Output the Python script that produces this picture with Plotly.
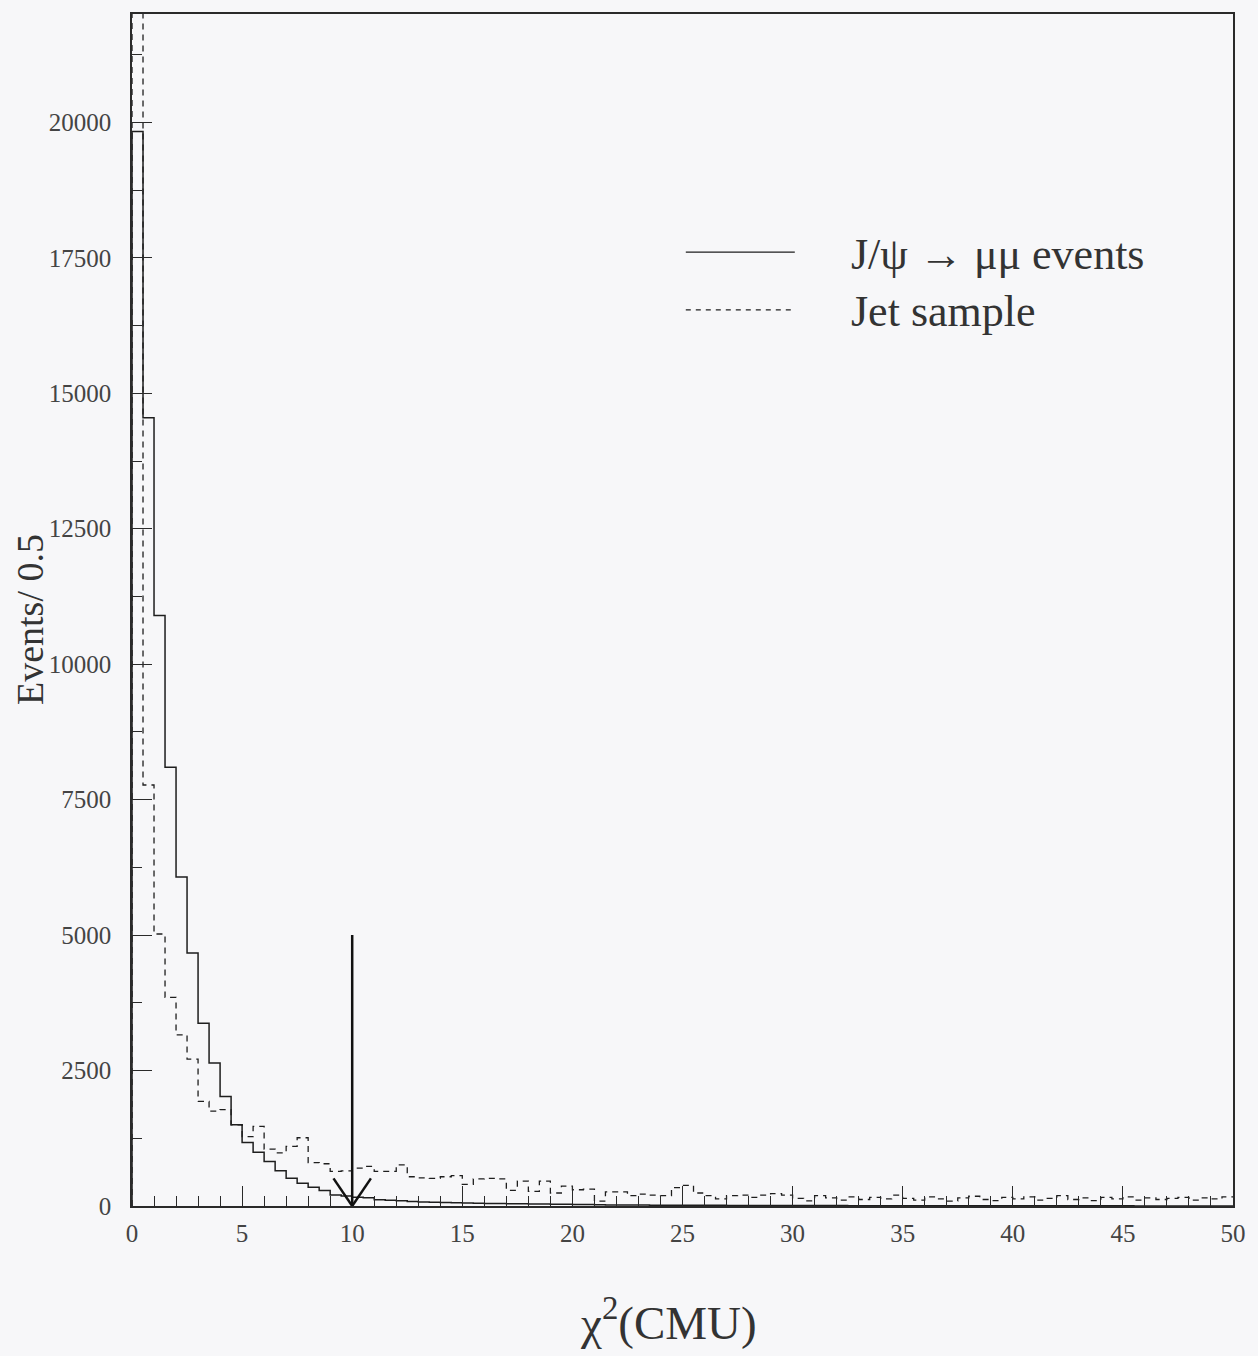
import numpy as np
import plotly.graph_objects as go

# Histogram binning: chi^2 from 0 to 50 in bins of 0.5
BIN_WIDTH = 0.5
X_MIN, X_MAX = 0.0, 50.0

# J/psi -> mu mu events (solid), counts per 0.5 bin
jpsi_counts = [
    19830, 14550, 10900, 8100, 6070, 4670, 3375, 2640, 2020, 1500,
    1170, 990, 820, 650, 510, 420, 345, 285, 205, 185,
    160, 150, 115, 105, 95, 85, 75, 70, 65, 60,
    55, 50, 48, 45, 42, 40, 38, 35, 33, 30,
    28, 26, 22, 20, 20, 18, 17, 16, 15, 15,
    14, 13, 12, 12, 11, 10, 10, 9, 9, 8,
    8, 8, 7, 7, 7, 6, 6, 6, 6, 5,
    5, 5, 5, 5, 4, 4, 4, 4, 4, 4,
    4, 3, 3, 3, 3, 3, 3, 3, 3, 3,
    3, 2, 2, 2, 2, 2, 2, 2, 2, 2,
]

# Jet sample (dashed), counts per 0.5 bin
jet_counts = [
    23500, 7770, 5020, 3850, 3160, 2710, 1930, 1750, 1780, 1500,
    1280, 1470, 1050, 980, 1100, 1260, 800, 780, 640, 650,
    700, 730, 640, 640, 760, 540, 520, 510, 540, 560,
    400, 500, 510, 500, 290, 460, 270, 460, 240, 365,
    300, 310, 90, 260, 260, 190, 220, 200, 190, 340,
    380, 240, 190, 130, 190, 200, 160, 200, 230, 200,
    140, 95, 190, 150, 110, 170, 120, 160, 130, 200,
    140, 110, 170, 130, 90, 150, 180, 120, 100, 160,
    130, 170, 110, 140, 190, 120, 150, 100, 160, 130,
    170, 110, 150, 120, 140, 160, 110, 150, 130, 170,
]

# Axis ticks
x_tickvals = [0, 5, 10, 15, 20, 25, 30, 35, 40, 45, 50]
y_tickvals = [0, 2500, 5000, 7500, 10000, 12500, 15000, 17500, 20000]
Y_MAX = 22000

# Selection cut marked with an arrow
CUT_VALUE = 10
ARROW_TOP = 5000
ARROW_HEAD_DX = 0.85
ARROW_HEAD_DY = 510

legend_labels = ["J/\u03c8 \u2192 \u03bc\u03bc events", "Jet sample"]

SERIF = "Liberation Serif, Times New Roman, serif"
INK = "#1e1e1e"
TEXT = "#333333"
BG = "#f7f7f9"


def step_outline(counts):
    """Return x/y arrays tracing a histogram outline with hv steps."""
    edges = X_MIN + BIN_WIDTH * np.arange(len(counts) + 1)
    xs = np.concatenate([[edges[0]], edges])
    ys = np.concatenate([[0], counts, [counts[-1]]])
    return xs, ys


fig = go.Figure()

xs, ys = step_outline(jet_counts)
fig.add_trace(go.Scatter(x=xs, y=ys, mode="lines", line_shape="hv",
                         line=dict(color=INK, width=1.3, dash="6px,5px"),
                         name=legend_labels[1], showlegend=False))

xs, ys = step_outline(jpsi_counts)
fig.add_trace(go.Scatter(x=xs, y=ys, mode="lines", line_shape="hv",
                         line=dict(color=INK, width=1.5),
                         name=legend_labels[0], showlegend=False))

# Cut arrow: shaft plus open V head
arrow_style = dict(color="#111111", width=2.5)
fig.add_shape(type="line", xref="x", yref="y", x0=CUT_VALUE, x1=CUT_VALUE,
              y0=ARROW_TOP, y1=0, line=arrow_style)
fig.add_shape(type="line", xref="x", yref="y", x0=CUT_VALUE - ARROW_HEAD_DX,
              x1=CUT_VALUE, y0=ARROW_HEAD_DY, y1=0, line=arrow_style)
fig.add_shape(type="line", xref="x", yref="y", x0=CUT_VALUE + ARROW_HEAD_DX,
              x1=CUT_VALUE, y0=ARROW_HEAD_DY, y1=0, line=arrow_style)

# Hand-drawn legend in the upper right
legend_rows = [(0.8003, "solid"), (0.7517, "5px,5px")]
for (ypos, dash), label in zip(legend_rows, legend_labels):
    fig.add_shape(type="line", xref="paper", yref="paper", x0=0.503, x1=0.602,
                  y0=ypos, y1=ypos, line=dict(color=INK, width=1.3, dash=dash))
    fig.add_annotation(xref="paper", yref="paper", x=0.651, y=ypos, yshift=-2,
                       xanchor="left", yanchor="middle", text=label,
                       showarrow=False, font=dict(family=SERIF, size=44, color=TEXT))

# Axis titles
fig.add_annotation(xref="paper", yref="paper", x=0, y=0.4916, xshift=-102,
                   text="Events/ 0.5", textangle=-90, showarrow=False,
                   xanchor="center", yanchor="middle",
                   font=dict(family=SERIF, size=38, color=TEXT))
fig.add_annotation(xref="paper", yref="paper", x=0.487, y=0, yshift=-113,
                   text="\u03c7<sup>2</sup>(CMU)", showarrow=False,
                   xanchor="center", yanchor="middle",
                   font=dict(family=SERIF, size=47, color=TEXT))

axis_common = dict(showline=True, mirror=True, linecolor="#2a2a2a", linewidth=1.5,
                   showgrid=False, zeroline=False, ticks="inside", tickcolor="#2a2a2a",
                   tickwidth=1.3, ticklen=20, tickformat="d",
                   tickfont=dict(family=SERIF, size=25, color="#444444"))

fig.update_xaxes(range=[X_MIN, X_MAX], tickvals=x_tickvals,
                 minor=dict(dtick=1, ticks="inside", ticklen=10, tickcolor="#2a2a2a",
                            tickwidth=1.2),
                 ticklabelstandoff=4, **axis_common)
fig.update_yaxes(range=[0, Y_MAX], tickvals=y_tickvals,
                 minor=dict(dtick=1250, ticks="inside", ticklen=10, tickcolor="#2a2a2a",
                            tickwidth=1.2),
                 ticklabelstandoff=14, **axis_common)

fig.update_layout(width=1258, height=1356, paper_bgcolor=BG, plot_bgcolor=BG,
                  margin=dict(l=132, r=21, t=14, b=150), showlegend=False)

fig.write_html("out.html")
